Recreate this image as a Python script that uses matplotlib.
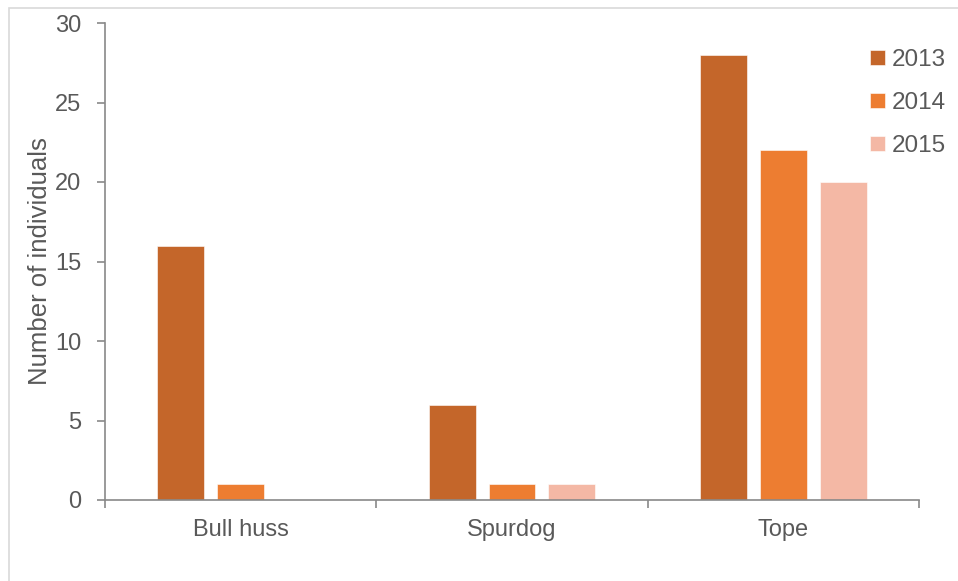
import matplotlib
matplotlib.use("Agg")
import matplotlib.pyplot as plt
import numpy as np
from matplotlib.patches import Rectangle

categories = ["Bull huss", "Spurdog", "Tope"]
years = ["2013", "2014", "2015"]
counts_2013 = [16, 6, 28]
counts_2014 = [1, 1, 22]
counts_2015 = [0, 1, 20]
series = [counts_2013, counts_2014, counts_2015]
colors = ["#C4662A", "#ED7D31", "#F4B8A5"]

plt.rcParams["font.family"] = ["Liberation Sans", "DejaVu Sans"]
text_color = "#595959"
axis_color = "#898989"

fig = plt.figure(figsize=(9.58, 5.81), dpi=100)
fig.patches.append(Rectangle((9 / 958, -0.1), 1.2, 1.1 - 8 / 581,
                             transform=fig.transFigure, fill=False,
                             edgecolor="#D9D9D9", linewidth=1.2))
ax = fig.add_axes([105 / 958, 1 - 500 / 581, (919 - 105) / 958, (500 - 23) / 581])

x = np.arange(len(categories))
width = 0.173
offset = 0.221
for i, (vals, yr, c) in enumerate(zip(series, years, colors)):
    ax.bar(x + (i - 1) * offset, vals, width, color=c, label=yr,
           edgecolor="white", linewidth=0.4, zorder=2)

ax.set_xlim(-0.5, 2.5)
ax.set_ylim(0, 30)
ax.set_yticks(np.arange(0, 31, 5))
ax.set_xticks(x)
ax.set_xticklabels(categories)
ax.set_xticks([-0.5, 0.5, 1.5, 2.5], minor=True)
ax.tick_params(axis="x", which="major", length=0, pad=14, labelsize=17, colors=text_color)
ax.tick_params(axis="x", which="minor", length=6, width=1.2, color=axis_color)
ax.tick_params(axis="y", length=6, width=1.2, color=axis_color, labelsize=17,
               labelcolor=text_color, pad=11)

for s in ["top", "right"]:
    ax.spines[s].set_visible(False)
for s in ["left", "bottom"]:
    ax.spines[s].set_color(axis_color)
    ax.spines[s].set_linewidth(1.2)

ax.set_ylabel("Number of individuals", fontsize=18.5, color=text_color, labelpad=2)

leg = fig.legend(loc="upper left", bbox_to_anchor=(870 / 958, 1 - 49 / 581), frameon=False,
                 fontsize=17.5, handlelength=0.6, handleheight=0.6,
                 handletextpad=0.3, labelspacing=0.86, borderaxespad=0.0, borderpad=0.0)
for t in leg.get_texts():
    t.set_color(text_color)

fig.savefig("out.png", dpi=100)
